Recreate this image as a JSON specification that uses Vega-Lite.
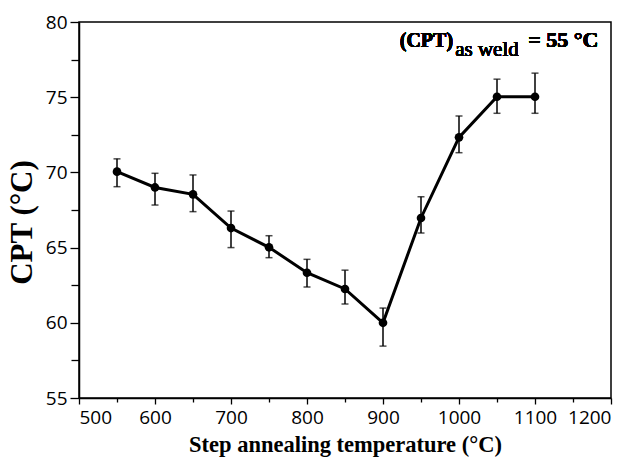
{
  "$schema": "https://vega.github.io/schema/vega-lite/v6.json",
  "width": 532,
  "height": 376,
  "autosize": {"type": "none"},
  "padding": {"left": 79, "top": 22, "right": 25, "bottom": 62},
  "background": "white",
  "config": {
    "view": {"stroke": "black", "strokeWidth": 1.5},
    "axis": {"grid": false, "domainColor": "black", "tickColor": "black", "labelColor": "black", "titleColor": "black", "domainWidth": 1.5, "tickWidth": 1.3}
  },
  "data": {
    "values": [
      {"t": 550, "cpt": 70.05, "lo": 69.05, "hi": 70.9},
      {"t": 600, "cpt": 69.0, "lo": 67.83, "hi": 69.94},
      {"t": 650, "cpt": 68.54, "lo": 67.39, "hi": 69.83},
      {"t": 700, "cpt": 66.3, "lo": 65.0, "hi": 67.43},
      {"t": 750, "cpt": 65.02, "lo": 64.33, "hi": 65.79},
      {"t": 800, "cpt": 63.33, "lo": 62.38, "hi": 64.22},
      {"t": 850, "cpt": 62.25, "lo": 61.25, "hi": 63.5},
      {"t": 900, "cpt": 60.0, "lo": 58.45, "hi": 60.98},
      {"t": 950, "cpt": 66.97, "lo": 65.97, "hi": 68.38},
      {"t": 1000, "cpt": 72.33, "lo": 71.31, "hi": 73.75},
      {"t": 1050, "cpt": 75.03, "lo": 73.93, "hi": 76.2},
      {"t": 1100, "cpt": 75.03, "lo": 73.93, "hi": 76.6}
    ]
  },
  "resolve": {"axis": {"x": "independent", "y": "independent"}},
  "layer": [
    {
      "mark": {"type": "rule", "color": "black", "strokeWidth": 1.5},
      "encoding": {
        "x": {"field": "t", "type": "quantitative", "scale": {"domain": [500, 1200], "nice": false},
              "axis": {"orient": "bottom", "values": [550, 650, 750, 850, 950, 1050, 1150], "labels": false, "domain": false, "tickSize": 4, "title": null}},
        "y": {"field": "lo", "type": "quantitative", "scale": {"domain": [55, 80], "nice": false, "zero": false},
              "axis": {"orient": "left", "values": [57.5, 62.5, 67.5, 72.5, 77.5], "labels": false, "domain": false, "tickSize": 8, "title": null}},
        "y2": {"field": "hi"}
      }
    },
    {
      "transform": [{"fold": ["lo", "hi"], "as": ["k", "v"]}],
      "mark": {"type": "tick", "orient": "horizontal", "color": "black", "size": 7, "thickness": 1.5},
      "encoding": {
        "x": {"field": "t", "type": "quantitative", "axis": null},
        "y": {"field": "v", "type": "quantitative", "axis": null}
      }
    },
    {
      "mark": {"type": "line", "color": "black", "strokeWidth": 3},
      "encoding": {
        "x": {"field": "t", "type": "quantitative",
              "axis": {"orient": "bottom", "values": [500, 600, 700, 800, 900, 1000, 1100, 1200], "format": "d", "tickSize": 6, "labelFont": "Open Sans", "labelFontSize": 19, "labelPadding": 4,
                       "title": "Step annealing temperature (°C)", "titleFont": "Liberation Serif", "titleFontWeight": "bold", "titleFontSize": 22.5, "titlePadding": 6}},
        "y": {"field": "cpt", "type": "quantitative",
              "axis": {"orient": "left", "values": [55, 60, 65, 70, 75, 80], "format": "d", "tickSize": 9, "labelFont": "Open Sans", "labelFontSize": 19, "labelPadding": 3,
                       "title": "CPT (°C)", "titleFont": "Liberation Serif", "titleFontWeight": "bold", "titleFontSize": 31, "titlePadding": 7, "titleY": 200}}
      }
    },
    {
      "mark": {"type": "point", "filled": true, "color": "black", "size": 75, "opacity": 1},
      "encoding": {
        "x": {"field": "t", "type": "quantitative", "axis": null},
        "y": {"field": "cpt", "type": "quantitative", "axis": null}
      }
    },
    {
      "mark": {"type": "text", "text": "(CPT)", "font": "Liberation Serif", "fontWeight": "bold", "fontSize": 20, "align": "left", "baseline": "alphabetic", "color": "black"},
      "encoding": {
        "x": {"datum": 922, "type": "quantitative", "axis": null},
        "y": {"datum": 78.34, "type": "quantitative", "axis": null}
      }
    },
    {
      "mark": {"type": "text", "text": "as weld", "font": "Liberation Serif", "fontWeight": 400, "fontSize": 21, "align": "left", "baseline": "alphabetic", "color": "black"},
      "encoding": {
        "x": {"datum": 995, "type": "quantitative", "axis": null},
        "y": {"datum": 77.74, "type": "quantitative", "axis": null}
      }
    },
    {
      "mark": {"type": "text", "text": "= 55 °C", "font": "Liberation Serif", "fontWeight": "bold", "fontSize": 22, "align": "left", "baseline": "alphabetic", "color": "black"},
      "encoding": {
        "x": {"datum": 1091, "type": "quantitative", "axis": null},
        "y": {"datum": 78.34, "type": "quantitative", "axis": null}
      }
    }
  ]
}
